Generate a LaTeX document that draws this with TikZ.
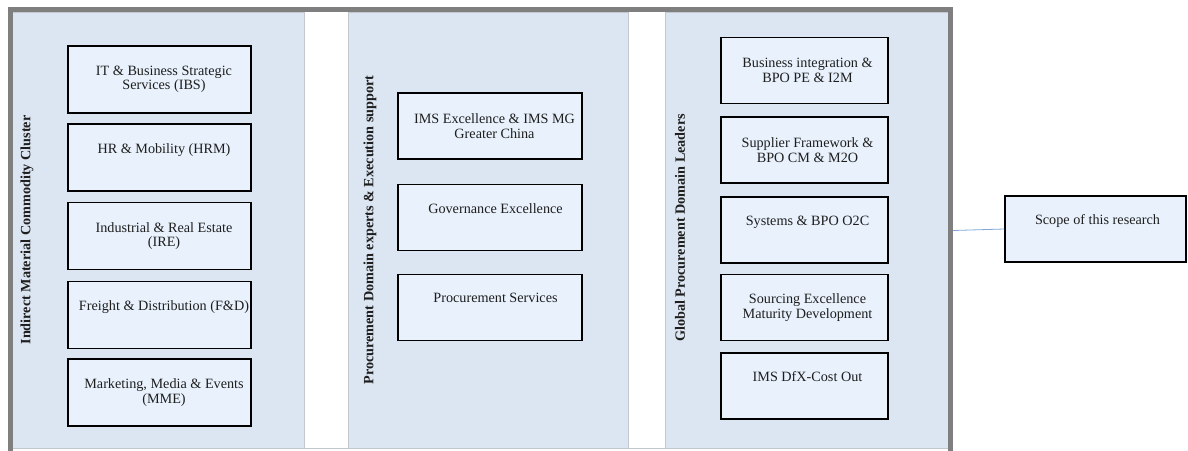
\documentclass[tikz,border=0pt]{standalone}
\usepackage{fontspec}
\setmainfont{Liberation Serif}
\definecolor{panelfill}{HTML}{DCE6F2}
\definecolor{panelline}{HTML}{C4C8CE}
\definecolor{boxfill}{HTML}{E9F2FC}
\definecolor{framegray}{HTML}{7F7F7F}
\definecolor{linkblue}{HTML}{7FA7D9}
\definecolor{inktext}{HTML}{1E1E1E}
\begin{document}
\begin{tikzpicture}[x=1pt,y=-1pt,
  panel/.style={draw=panelline, fill=panelfill, line width=0.9pt},
  item/.style={draw=black, fill=boxfill, line width=1.3pt, inner sep=0pt,
    align=center, text=inktext,
    font=\fontsize{14.2}{14.5}\selectfont},
  itemA/.style={item, minimum width=183, minimum height=67},
  itemB/.style={item, minimum width=184, minimum height=66},
  itemC/.style={item, minimum width=167, minimum height=66},
  paneltitle/.style={rotate=90, text=inktext,
    font=\fontsize{14.2}{15}\selectfont\bfseries},
  frameline/.style={draw=framegray, line width=5pt},
  link/.style={draw=linkblue, line width=0.8pt}]
\useasboundingbox (0,0) rectangle (1188,450);

% three column panels
\path[panel] (12,12) rectangle (304,448);
\path[panel] (348,12) rectangle (628,448);
\path[panel] (665,12) rectangle (948,448);
\draw[panelline, line width=0.8pt] (12,448.5) -- (948,448.5);

% outer frame (open at the bottom)
\draw[frameline] (10,452) -- (10,9.5) -- (950.5,9.5) -- (950.5,452);

% column titles
\node[paneltitle] (t1) at (27,230) {Indirect Material Commodity Cluster};
\node[paneltitle] (t2) at (370,230) {Procurement Domain experts \& Execution support};
\node[paneltitle] (t3) at (680,228) {Global Procurement Domain Leaders};

% first column
\node[itemA] (ibs) at (159.5,79.5) {\hspace*{9pt}IT \& Business Strategic\\\hspace*{9pt}Services (IBS)};
\node[itemA] (hrm) at (159.5,157.5) {\hspace*{9pt}HR \& Mobility (HRM)\\\strut};
\node[itemA] (ire) at (159.5,236) {\hspace*{9pt}Industrial \& Real Estate\\\hspace*{9pt}(IRE)};
\node[itemA] (fd) at (159.5,315) {\hspace*{9pt}Freight \& Distribution (F\&D)\\\strut};
\node[itemA] (mme) at (159.5,392.5) {\hspace*{9pt}Marketing, Media \& Events\\\hspace*{9pt}(MME)};

% second column
\node[itemB] (ims) at (490,126) {\hspace*{9pt}IMS Excellence \& IMS MG\\\hspace*{9pt}Greater China};
\node[itemB] (gov) at (490,217.5) {\hspace*{11pt}Governance Excellence\\\strut};
\node[itemB] (ps) at (490,307.5) {\hspace*{11pt}Procurement Services\\\strut};

% third column
\node[itemC] (bi) at (804.5,70.5) {\hspace*{6pt}Business integration \&\\\hspace*{6pt}BPO PE \& I2M};
\node[itemC] (sf) at (804.5,150) {\hspace*{6pt}Supplier Framework \&\\\hspace*{6pt}BPO CM \& M2O};
\node[itemC] (sys) at (804.5,230) {\hspace*{6pt}Systems \& BPO O2C\\\strut};
\node[itemC] (sem) at (804.5,307.5) {\hspace*{6pt}Sourcing Excellence\\\hspace*{6pt}Maturity Development};
\node[itemC] (dfx) at (804.5,386) {\hspace*{6pt}IMS DfX-Cost Out\\\strut};

% scope marker and its link to the frame
\node[item, minimum width=181, minimum height=66] (scope) at (1095.5,229) {\hspace*{4pt}Scope of this research\\\strut};
\coordinate (frameR) at (953,230.5);
\draw[link] (frameR) -- (scope.west);
\end{tikzpicture}
\end{document}
